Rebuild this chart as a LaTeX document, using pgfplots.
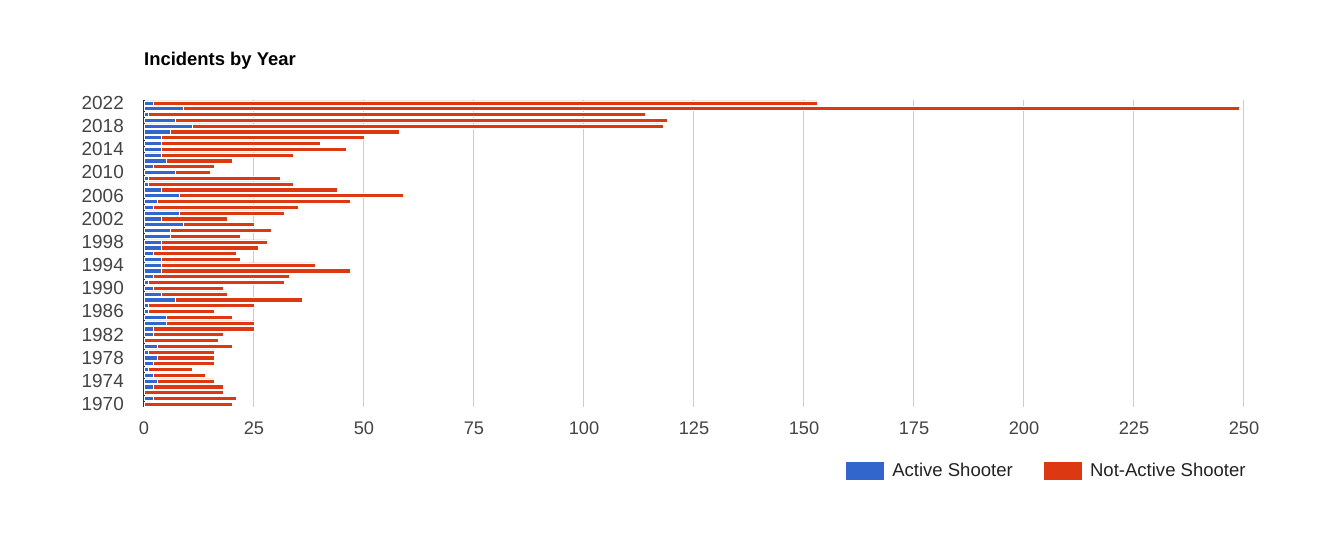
\documentclass[border=0pt]{standalone}
\usepackage{fontspec}
\setmainfont{Liberation Sans}
\usepackage{pgfplots}
\usepackage{pgfplotstable}
\pgfplotsset{compat=1.18}
\definecolor{asblue}{HTML}{3366CC}
\definecolor{nared}{HTML}{DC3912}
\definecolor{ticktext}{HTML}{444444}
\definecolor{legtext}{HTML}{222222}
\definecolor{gridc}{HTML}{CCCCCC}
\definecolor{basec}{HTML}{333333}

% year, active shooter, not-active shooter
\pgfplotstableread{
year active notactive
2022 2 151
2021 9 240
2020 1 113
2019 7 112
2018 11 107
2017 6 52
2016 4 46
2015 4 36
2014 4 42
2013 4 30
2012 5 15
2011 2 14
2010 7 8
2009 1 30
2008 1 33
2007 4 40
2006 8 51
2005 3 44
2004 2 33
2003 8 24
2002 4 15
2001 9 16
2000 6 23
1999 6 16
1998 4 24
1997 4 22
1996 2 19
1995 4 18
1994 4 35
1993 4 43
1992 2 31
1991 1 31
1990 2 16
1989 4 15
1988 7 29
1987 1 24
1986 1 15
1985 5 15
1984 5 20
1983 2 23
1982 2 16
1981 0 17
1980 3 17
1979 1 15
1978 3 13
1977 2 14
1976 1 10
1975 2 12
1974 3 13
1973 2 16
1972 0 18
1971 2 19
1970 0 20
}\incidents

\begin{document}
\begin{tikzpicture}
\path (0,0) rectangle (1320bp,533bp);
\begin{axis}[
    at={(144bp,126bp)}, anchor=south west,
    scale only axis, width=1100bp, height=307bp,
    xbar stacked, bar width=4.2bp,
    xmin=0, xmax=250, ymin=1969.5, ymax=2022.5,
    xtick={0,25,...,250},
    ytick={1970,1974,...,2022},
    major tick length=0pt,
    axis line style={draw=none},
    xmajorgrids, grid style={gridc, line width=1bp},
    extra x ticks={0}, extra x tick labels={},
    extra x tick style={grid style={basec, line width=1.3bp}},
    /pgf/number format/1000 sep={},
    /pgf/number format/assume math mode=true,
    x tick label style={font=\fontsize{18.3}{20}\selectfont, text=ticktext, anchor=north, inner sep=0pt, yshift=-14.5bp},
    y tick label style={font=\fontsize{19}{21}\selectfont, text=ticktext, anchor=east, inner sep=0pt, xshift=-20bp},
    title={\textbf{Incidents by Year}},
    title style={at={(0,1)}, anchor=west, inner sep=0pt, yshift=33bp, font=\fontsize{18.5}{20}\selectfont},
    legend columns=2,
    legend style={at={(0.638,-0.208)}, anchor=west, draw=none, fill=none,
        inner sep=0pt, font=\fontsize{18.6}{20}\selectfont, text=legtext,
        nodes={inner sep=0pt},
        /tikz/every even column/.append style={column sep=31bp}},
    legend image code/.code={\fill[#1, draw=none] (0bp,-9bp) rectangle (38bp,9bp); \path (46bp,0) circle (0pt);},
    clip=false,
]
\addplot[fill=asblue, draw=white, line width=0.6bp] table[x=active, y=year] {\incidents};
\addplot[fill=nared, draw=white, line width=0.6bp] table[x=notactive, y=year] {\incidents};
\legend{Active Shooter, Not-Active Shooter}
\end{axis}
\end{tikzpicture}
\end{document}
